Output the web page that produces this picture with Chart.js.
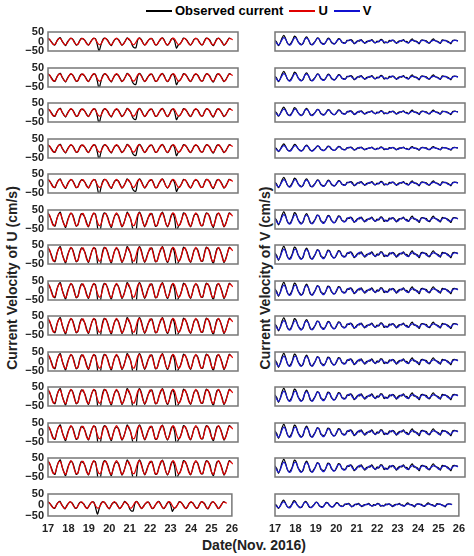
<!DOCTYPE html>
<html><head><meta charset="utf-8">
<script src="https://cdn.jsdelivr.net/npm/chart.js"></script>
<style>
body{margin:0;background:#fff;font-family:Arial,"Liberation Sans",sans-serif;}
#wrap{position:relative;width:474px;height:556px;}
.c{position:absolute;}
.t{position:absolute;font-weight:bold;color:#222;white-space:nowrap;}
.leg{position:absolute;top:3px;left:140px;font-weight:bold;font-size:13px;display:flex;align-items:center;}
.leg span.l{display:inline-block;width:26px;height:2px;margin:0 3px 0 6px;}
</style></head><body>
<div id="wrap">
<div class="leg"><span class="l" style="background:#000"></span>Observed current<span class="l" style="background:#e00000"></span>U<span class="l" style="background:#1010d0"></span>V</div>
<div class="t" style="top:270px;font-size:14px;transform:rotate(-90deg);width:200px;text-align:center;left:-88px">Current Velocity of U (cm/s)</div>
<div class="t" style="left:170px;top:270px;font-size:14px;transform:rotate(-90deg);width:190px;text-align:center">Current Velocity of V (cm/s)</div>
<div class="t" style="left:202px;top:537px;font-size:14px">Date(Nov. 2016)</div>
</div>
<script>
const TICKS_Y=[-50,0,50];
const TICKS_X=[17,18,19,20,21,22,23,24,25,26];
const U_BASE=[0.9,0.6,-0.3,-0.9,-0.8,0.0,0.8,0.9,0.2,-0.7,-1.0,-0.4,0.5,1.0,0.6,-0.3,-0.9,-0.8,0.1,0.8,0.9,0.2,-0.7,-1.0,-0.4,0.5,1.0,0.6,-0.3,-0.9,-0.8,0.1,0.9,0.9,0.1,-0.7,-1.0,-0.3,0.6,1.0,0.5,-0.4,-1.0,-0.7,0.2,0.9,0.8,0.0,-0.8,-0.9,-0.2,0.7,1.0,0.4,-0.5,-1.0,-0.6,0.3,0.9,0.8,-0.1,-0.9,-0.9,-0.1,0.8,1.0,0.3,-0.6,-1.0,-0.5,0.4,1.0,0.7,-0.2,-0.9,-0.8,0.0,0.8,0.9,0.2,-0.7,-1.0,-0.4,0.5,1.0,0.6,-0.3,-0.9,-0.8,0.1,0.9,0.9,0.1,-0.7,-1.0,-0.3,0.6,1.0,0.5,-0.4,-1.0,-0.7,0.2,0.9,0.8,0.5];
const V_BASE=[0.2,-0.5,-0.9,-0.4,0.5,1.0,0.6,-0.3,-0.9,-0.8,0.1,0.9,0.9,0.1,-0.7,-0.9,-0.3,0.6,0.9,0.5,-0.4,-0.9,-0.6,0.2,0.8,0.7,-0.1,-0.7,-0.7,0.0,0.6,0.6,0.0,-0.6,-0.6,0.1,0.5,0.5,-0.1,-0.5,-0.4,0.1,0.4,0.4,-0.1,-0.4,-0.4,0.1,0.4,0.3,-0.1,-0.3,-0.3,0.1,0.3,0.3,-0.1,-0.3,-0.2,0.1,0.3,0.3,-0.1,-0.3,-0.3,0.0,0.3,0.3,-0.1,-0.3,-0.3,0.1,0.3,0.3,0.0,-0.3,-0.3,0.1,0.3,0.3,0.0,-0.3,-0.3,0.1,0.3,0.3,-0.1,-0.3,-0.2,0.1,0.3,0.3,0.0,-0.3,-0.3,0.1,0.3,0.3,-0.1,-0.3,-0.3,0.1,0.3,0.3,0.1];
const OBS_DEV_U=[0.1,-0.1,0.2,0.1,-0.2,0.1,0.0,0.2,-0.1,0.1,-0.2,0.2,0.0,-0.1,0.1,0.2,-0.1,0.0,0.2,0.1,-0.2,0.1,0.2,-0.1,0.1,0.0,-0.1,0.2,-0.6,-1.9,-0.4,0.3,0.1,-0.1,0.2,0.1,-0.2,0.1,0.0,-0.2,0.1,0.2,-0.1,0.1,0.0,0.2,-0.2,0.1,-0.4,-0.9,-1.6,-0.3,0.1,0.2,0.1,-0.1,0.2,0.0,-0.2,0.1,0.2,-0.1,0.0,0.1,-0.2,0.1,0.2,0.0,-0.1,0.1,0.2,-0.1,-0.6,-1.7,-0.2,0.1,0.0,0.2,-0.1,0.1,0.2,-0.1,0.0,0.1,-0.2,0.1,0.2,0.0,-0.1,0.2,0.1,-0.1,0.3,0.0,-0.2,0.1,0.2,-0.1,0.0,0.2,-0.1,0.1,0.0,0.1,0.0];
const OBS_DEV_V=[0.1,0.3,-0.2,0.1,0.4,0.6,0.2,-0.1,0.1,0.3,0.2,0.5,0.2,-0.1,0.2,0.1,-0.2,0.1,0.3,0.0,-0.2,0.1,0.2,-0.1,0.1,0.0,-0.2,0.2,0.1,-0.1,0.2,0.1,-0.2,0.1,0.0,-0.2,0.2,0.1,-0.1,0.2,0.0,0.2,-0.2,0.1,0.3,-0.2,0.2,0.1,-0.3,0.2,0.1,-0.2,0.3,0.0,-0.2,0.2,0.1,-0.1,0.3,-0.2,0.2,0.1,-0.3,0.2,0.0,0.3,-0.2,0.1,0.2,-0.2,0.3,0.1,-0.2,0.2,0.0,0.3,-0.1,0.2,0.4,-0.2,0.1,0.2,-0.3,0.2,0.1,-0.1,0.3,0.0,-0.2,0.2,0.4,-0.1,0.1,0.2,-0.2,0.3,0.0,-0.1,0.2,0.1,-0.3,0.2,0.1,0.0,0.1];
const U_AMP=[18,20,20,20,22,35,38,38,38,38,38,36,36,15];
const V_AMP=[20,20,18,15,20,26,28,28,26,28,28,28,28,14];
const N_ROWS=14;

function ser(base,amp,dev){return base.map((v,i)=>({x:17+i/12,y:(v+(dev?dev[i]:0))*amp}));}
const frame={id:'frame',afterDraw(c){const a=c.chartArea,x=c.ctx;x.save();x.strokeStyle='#777';x.lineWidth=1.5;x.strokeRect(a.left,a.top,a.right-a.left,a.bottom-a.top);x.restore();}};
const ylabels={id:'ylabels',afterDraw(c,args,o){if(!o.show)return;const s=c.scales.y,x=c.ctx;x.save();x.fillStyle='#222';x.font='bold 11px Arial';x.textAlign='right';x.textBaseline='middle';
 TICKS_Y.forEach(v=>x.fillText(v<0?'\u2212'+Math.abs(v):String(v),c.chartArea.left-4,s.getPixelForValue(v)));x.restore();}};
const wrap=document.getElementById('wrap');
const font={size:11,weight:'bold',family:'Arial'};
for(let r=0;r<N_ROWS;r++){
 const top=32+r*35.5, last=r===N_ROWS-1;
 for(let col=0;col<2;col++){
  const d=document.createElement('div');d.className='c';
  const left=col?227:0, w=244, h=last?50:31;
  d.style.cssText=`left:${left}px;top:${top-6}px;width:${w}px;height:${h}px`;
  const cv=document.createElement('canvas');d.appendChild(cv);wrap.appendChild(d);
  const model=col?ser(V_BASE,V_AMP[r]):ser(U_BASE,U_AMP[r]);
  const obs=col?ser(V_BASE,V_AMP[r],OBS_DEV_V):ser(U_BASE,U_AMP[r],OBS_DEV_U);
  new Chart(cv,{type:'line',data:{datasets:[
    {data:obs,borderColor:'#000',borderWidth:1.2,pointRadius:0,tension:0.3,order:2},
    {data:model,borderColor:col?'#1a1ad0':'#e00000',borderWidth:1.2,pointRadius:0,tension:0.3,order:1}]},
   options:{responsive:true,maintainAspectRatio:false,animation:false,events:[],
    layout:{padding:{top:6,bottom:last?0:6,left:0,right:6}},
    plugins:{legend:{display:false},tooltip:{enabled:false},ylabels:{show:!col}},
    scales:{
     x:{type:'linear',min:17,max:26,display:last,grid:{display:false,drawTicks:false},border:{display:false},
        afterBuildTicks:a=>{a.ticks=TICKS_X.map(v=>({value:v}));},
        ticks:{color:'#222',font,padding:6,maxRotation:0,autoSkip:false}},
     y:{min:-50,max:50,display:true,grid:{display:false,drawTicks:false},border:{display:false},
        afterFit:a=>{a.width=48;},
        ticks:{display:false}}}},
   plugins:[frame,ylabels]});
 }
}
</script></body></html>
